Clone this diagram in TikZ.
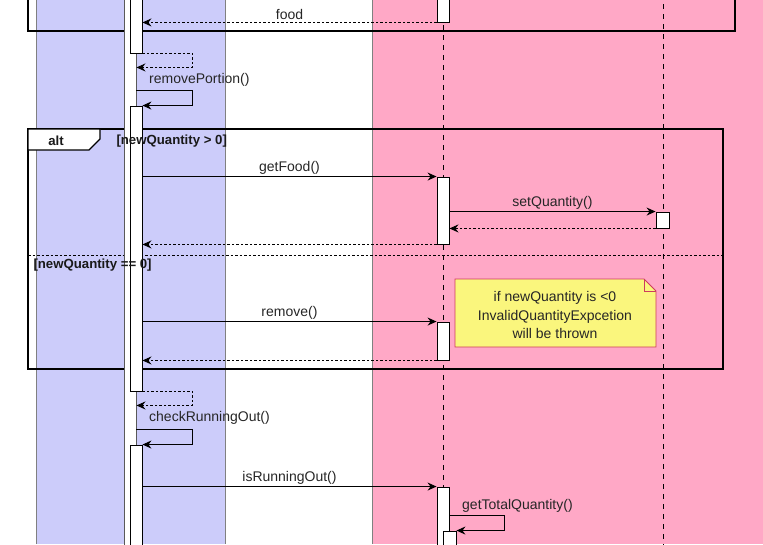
\documentclass[tikz,border=0pt]{standalone}
\usepackage{fontspec}
\setmainfont{Liberation Sans}
\usetikzlibrary{arrows.meta,fit}
\definecolor{laneblue}{RGB}{204,204,250}
\definecolor{lanepink}{RGB}{255,168,198}
\definecolor{noteyellow}{RGB}{250,246,125}
\definecolor{noteedge}{RGB}{205,60,95}
\tikzset{
  actbar/.style={draw=black, fill=white, inner sep=0pt, line width=0.9pt},
  msg/.style={-{Stealth[length=9pt,width=8pt,inset=3pt]}, line width=0.9pt},
  ret/.style={msg, dash pattern=on 2.5pt off 2pt},
  lifeline/.style={dash pattern=on 5pt off 5pt, line width=1pt},
  frm/.style={line width=1.8pt},
  lbl/.style={font=\fontsize{14}{16}\selectfont, text=black!85, inner sep=2pt},
  guard/.style={font=\bfseries\fontsize{13.2}{15}\selectfont, text=black!90},
}

\begin{document}
\begin{tikzpicture}[x=1pt, y=-1pt]
\useasboundingbox (0,0) rectangle (763,544);
% swimlanes
\fill[laneblue] (36,0) rectangle (225,544);
\draw[gray] (36,0) -- (36,544) (225,0) -- (225,544);
\fill[lanepink] (372,0) rectangle (763,544);
\draw[gray] (372,0) -- (372,544);

% lifelines
\coordinate (storetop) at (443,-5);
\coordinate (storebot) at (443,549);
\coordinate (foodtop) at (663,4);
\coordinate (foodbot) at (663,549);
\draw[lifeline] (storetop) -- (storebot);
\draw[lifeline] (foodtop) -- (foodbot);

% frames
\draw[frm] (28,-5) rectangle (735,31);
\draw[frm] (28,129) rectangle (723,369);
\filldraw[fill=white, line width=1.2pt] (28,129) -- (100,129) -- (100,139) -- (89,150) -- (28,150) -- cycle;
\draw[dash pattern=on 2.5pt off 2pt, line width=0.9pt] (28,255) -- (723,255);

% activations
\node[actbar, draw=gray!70!black, fit={(124,-5) (136,549)}] (ctl) {};
\node[actbar, fit={(130,-5) (142,53)}] (b1) {};
\node[actbar, fit={(130,106) (142,391)}] (b2) {};
\node[actbar, fit={(130,445) (142,549)}] (b3) {};
\node[actbar, fit={(437,-5) (449,22)}] (m0) {};
\node[actbar, fit={(437,177) (449,244)}] (m1) {};
\node[actbar, fit={(656,212) (669,228)}] (f1) {};
\node[actbar, fit={(437,322) (449,360)}] (m2) {};
\node[actbar, fit={(437,487) (449,549)}] (m3) {};
\node[actbar, fit={(443,531) (456,549)}] (m4) {};

% frame texts
\node[guard] (alttag) at (56,141) {alt};
\node[guard, anchor=west] (guard1) at (113,141) {[newQuantity > 0]};
\node[guard, anchor=west] (guard2) at (30,265) {[newQuantity == 0]};

% messages
\draw[ret] (m0.south west) -- node[lbl, above] (foodlbl) {food} (b1.east |- m0.south);
\draw[ret] (b1.south east) -| ([xshift=50pt,yshift=-14pt]b1.south east) -- ([yshift=-14pt]b1.south -| ctl.east);
\node[lbl, anchor=west] (rplbl) at (147,80) {removePortion()};
\draw[msg] ([yshift=15pt]b2.north -| ctl.east) -| ([xshift=50pt]b2.north east) -- (b2.north east);

\draw[msg] (b2.east |- m1.north) -- node[lbl, above] (gflbl) {getFood()} (m1.north west);
\draw[msg] (m1.east |- f1.north) -- node[lbl, above] (sqlbl) {setQuantity()} (f1.north west);
\draw[ret] (f1.south west) -- (m1.east |- f1.south);
\draw[ret] (m1.south west) -- (b2.east |- m1.south);

\draw[msg] (b2.east |- m2.north) -- node[lbl, above] (rmlbl) {remove()} (m2.north west);
\draw[ret] (m2.south west) -- (b2.east |- m2.south);

\draw[ret] (b2.south east) -| ([xshift=50pt,yshift=-14pt]b2.south east) -- ([yshift=-14pt]b2.south -| ctl.east);
\node[lbl, anchor=west] (crlbl) at (147,418) {checkRunningOut()};
\draw[msg] ([yshift=15pt]b3.north -| ctl.east) -| ([xshift=50pt]b3.north east) -- (b3.north east);

\draw[msg] (b3.east |- m3.north) -- node[lbl, above] (irlbl) {isRunningOut()} (m3.north west);
\node[lbl, anchor=west] (gtlbl) at (460,506) {getTotalQuantity()};
\draw[msg] ([yshift=15pt]m4.north -| m3.east) -| ([xshift=48pt]m4.north east) -- (m4.north east);

% note
\filldraw[draw=noteedge, fill=noteyellow, line width=0.9pt] (455,279) -- (644,279) -- (656,291) -- (656,347) -- (455,347) -- cycle;
\draw[noteedge, line width=0.9pt] (644,279) -- (644,291) -- (656,291);
\node[lbl, align=center, font=\fontsize{14}{18.5}\selectfont] (notetxt) at (555,315) {if newQuantity is <0\\InvalidQuantityExpcetion\\will be thrown};
\end{tikzpicture}
\end{document}
